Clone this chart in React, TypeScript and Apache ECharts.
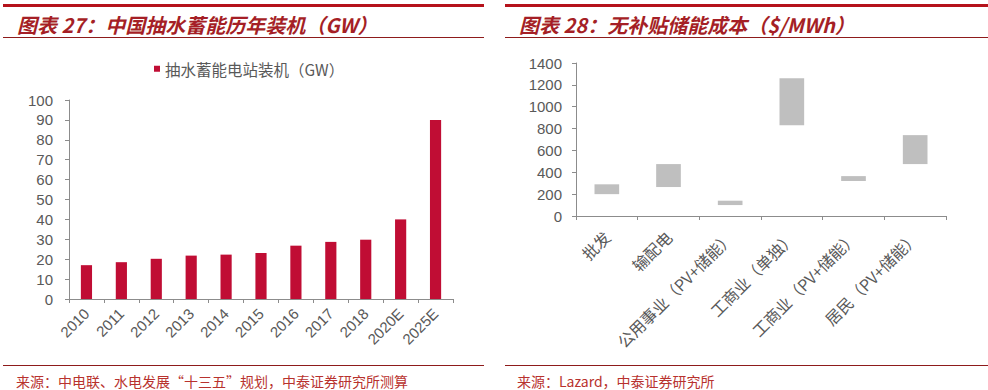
import React, { useEffect, useRef } from "react";
import * as echarts from "echarts";

const years = ["2010", "2011", "2012", "2013", "2014", "2015", "2016", "2017", "2018", "2020E", "2025E"];
const capacity = [17, 18.5, 20.2, 21.8, 22.3, 23.1, 26.8, 28.7, 29.8, 40, 90];
const leftTicks = { min: 0, max: 100, interval: 10 };

const segments = ["批发", "输配电", "公用事业（PV+储能）", "工商业（单独）", "工商业（PV+储能）", "居民（PV+储能）"];
const costLow = [200, 265, 100, 830, 320, 475];
const costHigh = [290, 475, 140, 1260, 365, 740];
const rightTicks = { min: 0, max: 1400, interval: 200 };

const RED = "#B5121B";
const TITLE_RED = "#A51F26";
const DARK_LINE = "#8E1B1B";
const FOOT_RED = "#B8322E";
const BAR_RED = "#C00D34";
const GRAY_BOX = "#BFBFBF";
const AXIS = "#8C8C8C";
const LABEL = "#595959";
const CJK = "'Noto Sans CJK SC', 'Noto Sans', sans-serif";
const LAT = "'Liberation Sans', Arial, sans-serif";

export default function App() {
  const ref = useRef<HTMLDivElement>(null);
  useEffect(() => {
    document.body.style.margin = "0";
    const chart = echarts.init(ref.current!, null, { renderer: "svg" });
    chart.setOption({
      animation: false,
      backgroundColor: "#fff",
      legend: {
        data: ["抽水蓄能电站装机（GW）"],
        left: 149,
        top: 56,
        itemWidth: 6,
        itemHeight: 6,
        itemGap: 4,
        icon: "rect",
        textStyle: { color: LABEL, fontSize: 15.5, fontFamily: CJK },
      },
      grid: [
        { left: 69, right: 535, top: 100, bottom: 91, containLabel: false },
        { left: 576, right: 42, top: 63, bottom: 174, containLabel: false },
      ],
      xAxis: [
        {
          type: "category",
          gridIndex: 0,
          data: years,
          axisLine: { lineStyle: { color: AXIS } },
          axisTick: { show: true, length: 4, lineStyle: { color: AXIS } },
          axisLabel: { interval: 0, rotate: 45, color: LABEL, fontSize: 15, fontFamily: LAT, margin: 12 },
        },
        {
          type: "category",
          gridIndex: 1,
          data: segments,
          axisLine: { lineStyle: { color: AXIS } },
          axisTick: { show: true, length: 4, lineStyle: { color: AXIS } },
          axisLabel: { interval: 0, rotate: 45, color: LABEL, fontSize: 16, fontFamily: CJK, margin: 18 },
        },
      ],
      yAxis: [
        {
          type: "value",
          gridIndex: 0,
          ...leftTicks,
          axisLine: { show: true, lineStyle: { color: AXIS } },
          axisTick: { show: true, length: 4, lineStyle: { color: AXIS } },
          splitLine: { show: false },
          axisLabel: { color: LABEL, fontSize: 15, fontFamily: LAT, margin: 16 },
        },
        {
          type: "value",
          gridIndex: 1,
          ...rightTicks,
          axisLine: { show: true, lineStyle: { color: AXIS } },
          axisTick: { show: true, length: 4, lineStyle: { color: AXIS } },
          splitLine: { show: false },
          axisLabel: {
            color: LABEL,
            fontSize: 15,
            fontFamily: LAT,
            margin: 14,
            formatter: (v: number) => String(v),
          },
        },
      ],
      series: [
        {
          name: "抽水蓄能电站装机（GW）",
          type: "bar",
          xAxisIndex: 0,
          yAxisIndex: 0,
          data: capacity,
          barWidth: "32%",
          itemStyle: { color: BAR_RED },
        },
        {
          name: "base",
          type: "bar",
          xAxisIndex: 1,
          yAxisIndex: 1,
          stack: "cost",
          data: costLow,
          barWidth: "40%",
          itemStyle: { color: "transparent" },
          silent: true,
        },
        {
          name: "range",
          type: "bar",
          xAxisIndex: 1,
          yAxisIndex: 1,
          stack: "cost",
          data: costHigh.map((h, i) => h - costLow[i]),
          barWidth: "40%",
          itemStyle: { color: GRAY_BOX },
        },
      ],
      graphic: [
        { type: "rect", shape: { x: 3, y: 4, width: 481, height: 3 }, style: { fill: RED } },
        { type: "rect", shape: { x: 505, y: 4, width: 483, height: 3 }, style: { fill: RED } },
        { type: "line", shape: { x1: 3, y1: 37.5, x2: 484, y2: 37.5 }, style: { stroke: DARK_LINE, lineWidth: 1 } },
        { type: "line", shape: { x1: 505, y1: 37.5, x2: 988, y2: 37.5 }, style: { stroke: DARK_LINE, lineWidth: 1 } },
        { type: "line", shape: { x1: 3, y1: 365.5, x2: 484, y2: 365.5 }, style: { stroke: DARK_LINE, lineWidth: 1 } },
        { type: "line", shape: { x1: 505, y1: 365.5, x2: 988, y2: 365.5 }, style: { stroke: DARK_LINE, lineWidth: 1 } },
        {
          type: "text",
          x: 17,
          y: 24,
          style: {
            text: "图表 27：中国抽水蓄能历年装机（GW）",
            fill: TITLE_RED,
            font: `italic bold 20px ${CJK}`,
            verticalAlign: "middle",
          },
        },
        {
          type: "text",
          x: 519,
          y: 24,
          style: {
            text: "图表 28：无补贴储能成本（$/MWh）",
            fill: TITLE_RED,
            font: `italic bold 20px ${CJK}`,
            verticalAlign: "middle",
          },
        },
        {
          type: "text",
          x: 16,
          y: 381,
          style: {
            text: "来源：中电联、水电发展“十三五”规划，中泰证券研究所测算",
            fill: FOOT_RED,
            font: `14px ${CJK}`,
            verticalAlign: "middle",
          },
        },
        {
          type: "text",
          x: 517,
          y: 381,
          style: {
            text: "来源：Lazard，中泰证券研究所",
            fill: FOOT_RED,
            font: `14px ${CJK}`,
            verticalAlign: "middle",
          },
        },
      ],
    });
    return () => chart.dispose();
  }, []);
  return <div ref={ref} style={{ width: 988, height: 390 }} />;
}
